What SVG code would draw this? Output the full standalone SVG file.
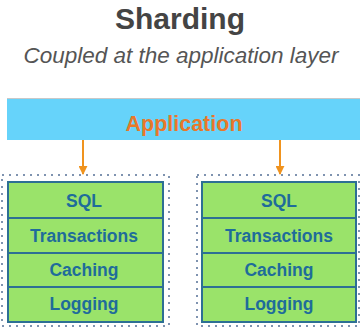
<svg xmlns="http://www.w3.org/2000/svg" width="360" height="331" viewBox="0 0 360 331">
<style>
.title{font-family:"Liberation Sans",Arial,sans-serif;font-weight:bold;font-size:30px;fill:#444;text-anchor:middle}
.sub{font-family:"Liberation Sans",Arial,sans-serif;font-style:italic;font-size:22.5px;fill:#555;text-anchor:middle}
.app{font-family:"Liberation Sans",Arial,sans-serif;font-weight:bold;font-size:21.5px;fill:#e8782a;text-anchor:middle}
.lbl{font-family:"Liberation Sans",Arial,sans-serif;font-weight:bold;font-size:17.5px;fill:#1f6c9a;text-anchor:middle}
.layer{fill:#9ae36a;stroke:#2d6f94;stroke-width:2}
.shard{fill:none;stroke:#7f93b0;stroke-width:2;stroke-dasharray:2 5}
.conn{stroke:#f0931e;stroke-width:2;fill:none}
</style>
<defs>
<marker id="ah" viewBox="0 0 10 10" refX="9" refY="5" markerWidth="9" markerHeight="9" orient="auto" markerUnits="userSpaceOnUse">
<path d="M0,0 L10,5 L0,10 z" fill="#f0931e"/>
</marker>
</defs>
<text class="title" x="180" y="29">Sharding</text>
<text class="sub" x="181" y="63">Coupled at the application layer</text>
<g id="application">
<rect x="7" y="99" width="353" height="41" fill="#66d3fa"/>
<line x1="7" y1="98.5" x2="360" y2="98.5" stroke="#c8c8c8" stroke-width="1"/>
<text class="app" x="184" y="131">Application</text>
</g>
<g id="connectors">
<line class="conn" x1="83" y1="140" x2="83" y2="174" marker-end="url(#ah)"/>
<line class="conn" x1="280" y1="140" x2="280" y2="174" marker-end="url(#ah)"/>
</g>
<g id="shard1">
<rect class="shard" x="2" y="175" width="167" height="151"/>
<rect class="layer" x="8" y="182" width="155" height="36"/>
<rect class="layer" x="8" y="218" width="155" height="35"/>
<rect class="layer" x="8" y="253" width="155" height="34"/>
<rect class="layer" x="8" y="287" width="155" height="35"/>
<text class="lbl" x="84" y="207">SQL</text>
<text class="lbl" x="84" y="242">Transactions</text>
<text class="lbl" x="84" y="276">Caching</text>
<text class="lbl" x="84" y="310">Logging</text>
</g>
<g id="shard2">
<rect class="shard" x="197" y="175" width="162" height="151"/>
<rect class="layer" x="202" y="182" width="154" height="36"/>
<rect class="layer" x="202" y="218" width="154" height="35"/>
<rect class="layer" x="202" y="253" width="154" height="34"/>
<rect class="layer" x="202" y="287" width="154" height="35"/>
<text class="lbl" x="279" y="207">SQL</text>
<text class="lbl" x="279" y="242">Transactions</text>
<text class="lbl" x="279" y="276">Caching</text>
<text class="lbl" x="279" y="310">Logging</text>
</g>
</svg>
